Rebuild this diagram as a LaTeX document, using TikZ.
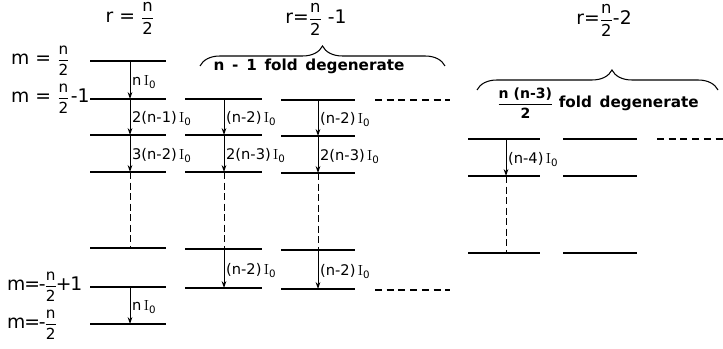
\documentclass[tikz,border=0pt]{standalone}
\usepackage{amsmath}
\usepackage{fontspec}
\setsansfont{DejaVu Sans}
\usetikzlibrary{arrows.meta,decorations.pathreplacing}
\newcommand{\fr}[3][14]{{\fontsize{#1}{#1}\selectfont$\genfrac{}{}{0.8pt}{0}{\text{#2}}{\text{#3}}$}}
\newcommand{\Io}{\,{\rmfamily I}\textsubscript{0}}

\begin{document}
\begin{tikzpicture}[x=0.03cm,y=-0.03cm,
    every node/.style={font=\sffamily},
    lvl/.style={line width=1.8pt},
    arr/.style={line width=0.7pt,-{Stealth[length=6pt,width=4pt]}},
    gap/.style={line width=0.7pt,dash pattern=on 6pt off 3pt},
    more/.style={line width=0.9pt,dash pattern=on 6pt off 4pt},
    lab/.style={right,inner sep=1.5pt,font=\sffamily\fontsize{12.5}{14}\selectfont},
    mlab/.style={right,inner sep=0pt,font=\sffamily\fontsize{16}{18}\selectfont},
    title/.style={font=\sffamily\fontsize{16}{18}\selectfont},
    degen/.style={font=\sffamily\bfseries\fontsize{13}{15}\selectfont},
    brc/.style={line width=0.9pt,decorate,decoration={brace,amplitude=0.6cm}}]
  \useasboundingbox (0,0) rectangle (723,349);

  % titles
  \node[title] (t1) at (130,18) {r = \fr{n}{2}};
  \node[title] (t2) at (316,19) {r=\fr{n}{2} -1};
  \node[title] (t3) at (604,20) {r=\fr{n}{2}-2};

  % r = n/2
  \foreach \y [count=\i] in {61,99,135,172,248,287,324} {
    \draw[lvl] (90,\y) -- (166,\y);
    \coordinate (a\i) at (130,\y);
  }
  \node[mlab] (m1) at (11,61) {m = \fr[13]{n}{2}};
  \node[mlab] (m2) at (11,99) {m = \fr[13]{n}{2}\kern1pt-1};
  \node[mlab] (m3) at (7,287) {m\kern-1pt=\kern-1pt-\kern-1pt\fr[13]{n}{2}\kern-1pt+\kern-1pt1};
  \node[mlab] (m4) at (7,325) {m\kern-1pt=\kern-1pt-\kern-1pt\fr[13]{n}{2}};
  \draw[arr] (a1) -- node[lab,pos=0.55] {n\Io} (a2);
  \draw[arr] (a2) -- node[lab,pos=0.55] {2(n-1)\Io} (a3);
  \draw[arr] (a3) -- node[lab,pos=0.55] {3(n-2)\Io} (a4);
  \draw[gap] (a4) -- (a5);
  \draw[arr] (a6) -- node[lab,pos=0.55] {n\Io} (a7);

  % r = n/2 - 1
  \draw[brc] (200,66) -- (445,66);
  \node[degen] (dg1) at (309,66) {n\, -\, 1\enspace fold\enspace degenerate};
  \foreach \y [count=\i] in {99,135,172,249,288} {
    \draw[lvl] (185,\y) -- (262,\y);
    \coordinate (b\i) at (224,\y);
  }
  \foreach \y [count=\i] in {100,136,173,250,289} {
    \draw[lvl] (281,\y) -- (355,\y);
    \coordinate (c\i) at (318,\y);
  }
  \foreach \col in {b,c} {
    \draw[arr] (\col1) -- node[lab,pos=0.55] {(n-2)\Io} (\col2);
    \draw[arr] (\col2) -- node[lab,pos=0.55] {2(n-3)\Io} (\col3);
    \draw[gap] (\col3) -- (\col4);
    \draw[arr] (\col4) -- node[lab,pos=0.55] {(n-2)\Io} (\col5);
  }
  \draw[more] (375,100) -- (450,100);
  \draw[more] (375,290) -- (450,290);

  % r = n/2 - 2
  \draw[brc,decoration={aspect=0.56}] (477,90) -- (718,90);
  \node[degen] (dg2) at (598,103) {\fr[12]{n (n-3)}{2}\ fold\enspace degenerate};
  \foreach \y [count=\i] in {139,176,253} {
    \draw[lvl] (468,\y) -- (540,\y);
    \draw[lvl] (563,\y) -- (637,\y);
    \coordinate (d\i) at (506,\y);
  }
  \draw[arr] (d1) -- node[lab,pos=0.55] {(n-4)\Io} (d2);
  \draw[gap] (d2) -- (d3);
  \draw[more] (657,139) -- (723,139);
\end{tikzpicture}
\end{document}
